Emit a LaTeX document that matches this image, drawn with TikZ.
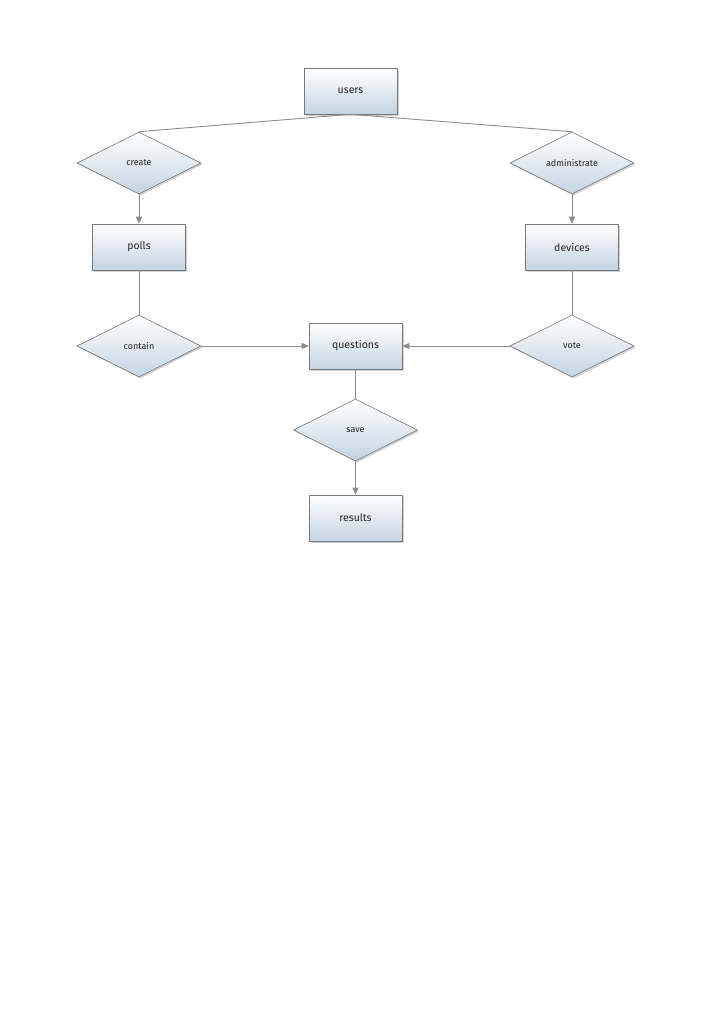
\documentclass[tikz,border=0pt]{standalone}
\usepackage{fontspec}
\setmainfont{Fira Sans}
\usetikzlibrary{shapes.geometric,shadows,arrows.meta}
\definecolor{boxbot}{RGB}{196,212,226}
\definecolor{edgegray}{RGB}{120,120,120}
\definecolor{linegray}{RGB}{140,140,140}
\tikzset{
  base/.style={draw=edgegray, line width=0.6pt, top color=white, bottom color=boxbot,
    drop shadow={shadow xshift=1.5pt, shadow yshift=-1.5pt, opacity=0.35, fill=gray},
    font=\fontsize{10.5}{12}\selectfont, text=black!85},
  entity/.style={base, rectangle, minimum width=93pt, minimum height=46pt, inner sep=0pt},
  rel/.style={base, diamond, aspect=2, minimum width=124pt, minimum height=62pt, inner sep=0pt,
    font=\fontsize{9}{10}\selectfont},
  conn/.style={draw=linegray, line width=0.9pt},
  arr/.style={conn, -{Triangle[length=7pt,width=6pt]}, color=linegray}
}
\begin{document}
\begin{tikzpicture}[x=1pt,y=-1pt]
\useasboundingbox[fill=white] (0,0) rectangle (714,1010);
\node[entity] (users) at (350.5,91) {users};
\node[rel] (create) at (139,163) {create};
\node[rel] (admin) at (572,163) {administrate};
\node[entity] (polls) at (139,247) {polls};
\node[entity] (devices) at (572,247) {devices};
\node[rel] (contain) at (139,346) {contain};
\node[entity] (questions) at (355.5,346) {questions};
\node[rel] (vote) at (572,346) {vote};
\node[rel] (save) at (355.5,430) {save};
\node[entity] (results) at (355.5,518) {results};

\draw[conn] (users.south) -- (create.north);
\draw[conn] (users.south) -- (admin.north);
\draw[arr] (create.south) -- (polls.north);
\draw[arr] (admin.south) -- (devices.north);
\draw[conn] (polls.south) -- (contain.north);
\draw[conn] (devices.south) -- (vote.north);
\draw[arr] (contain.east) -- (questions.west);
\draw[arr] (vote.west) -- (questions.east);
\draw[conn] (questions.south) -- (save.north);
\draw[arr] (save.south) -- (results.north);
\end{tikzpicture}
\end{document}
